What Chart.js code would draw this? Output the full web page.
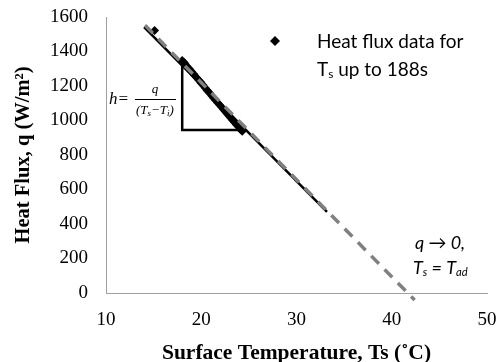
<!DOCTYPE html>
<html>
<head>
<meta charset="utf-8">
<script src="https://cdn.jsdelivr.net/npm/chart.js@4/dist/chart.umd.min.js"></script>
<style>
  html, body { margin: 0; padding: 0; background: #fff; }
  #wrap { width: 503px; height: 362px; }
</style>
</head>
<body>
<div id="wrap"><canvas id="fluxChart" width="503" height="362"></canvas></div>
<script>
// heat flux data, Ts up to 188 s
const fluxT = [15.1, 18.0, 18.2, 18.3, 18.5, 18.7, 18.8, 19.0, 19.2, 19.3, 19.5, 19.7, 19.9, 20.0,
               20.2, 20.4, 20.6, 20.7, 20.9, 21.1, 21.3, 21.5, 21.7, 21.9, 22.1, 22.3, 22.5,
               22.7, 22.9, 23.1, 23.3, 23.5, 23.7, 23.9, 24.1, 24.3];
const fluxQ = [1522, 1348, 1336, 1327, 1315, 1302, 1296, 1283, 1269, 1263, 1250, 1236, 1224, 1216,
               1204, 1190, 1177, 1170, 1158, 1144, 1131, 1118, 1105, 1093, 1079, 1067, 1053,
               1040, 1028, 1015, 1002, 989, 976, 964, 950, 938];

// linear fit through the data (solid black)
const fitT = [14.0, 33.2];
const fitQ = [1542, 470];

// extrapolation to q = 0 (grey dashed)
const trendT = [14.1, 42.4];
const trendQ = [1552, -41];

// slope triangle
const triT = [18.0, 18.0, 24.3];
const triQ = [1345, 945, 945];

const xTicks = [10, 20, 30, 40, 50];
const yTicks = [0, 200, 400, 600, 800, 1000, 1200, 1400, 1600];

const toPts = (xs, ys) => xs.map((x, i) => ({ x: x, y: ys[i] }));

const serif = "'Liberation Serif', 'Times New Roman', serif";
const sans = "Lato, 'Open Sans', sans-serif";

// draws text with a subscript part: parts = [[text, isSub], ...]
const drawRich = (ctx, parts, x, y, size, style) => {
    let cx = x;
    parts.forEach(p => {
        const s = p[1] ? size * 0.62 : size;
        ctx.font = `${style} ${s}px ${sans}`;
        ctx.fillText(p[0], cx, p[1] ? y + size * 0.22 : y);
        cx += ctx.measureText(p[0]).width;
    });
};

const annotations = {
    id: 'annotations',
    afterDatasetsDraw(chart) {
        const ctx = chart.ctx;
        ctx.save();
        ctx.fillStyle = '#000';
        ctx.textBaseline = 'middle';
        ctx.textAlign = 'left';

        // legend
        const lx = 275, ly = 41;
        ctx.beginPath();
        ctx.moveTo(lx, ly - 5);
        ctx.lineTo(lx + 5, ly);
        ctx.lineTo(lx, ly + 5);
        ctx.lineTo(lx - 5, ly);
        ctx.closePath();
        ctx.fill();
        drawRich(ctx, [['Heat flux data for', false]], 317, 42, 19, 'normal');
        drawRich(ctx, [['T', false], ['s', true], [' up to 188s', false]], 317, 70, 19, 'normal');

        // q -> 0 note
        drawRich(ctx, [['q \u2192 0,', false]], 415, 243, 18, 'italic');
        drawRich(ctx, [['T', false], ['s', true], [' = T', false], ['ad', true]], 413, 268, 18, 'italic');

        // h = q / (Ts - Ti)
        const fx = 109, fy = 100;
        ctx.font = `italic 17px ${serif}`;
        ctx.fillText('h=', fx, fy);
        ctx.fillRect(135, fy - 1, 41, 1);
        ctx.textAlign = 'center';
        ctx.font = `italic 13px ${serif}`;
        ctx.fillText('q', 155, fy - 10);
        ctx.textAlign = 'left';
        let dx = 136;
        [['(T', 13, 0], ['s', 9, 3], ['\u2212T', 13, 0], ['i', 9, 3], [')', 13, 0]].forEach(p => {
            ctx.font = `italic ${p[1]}px ${serif}`;
            ctx.fillText(p[0], dx, fy + 11 + p[2]);
            dx += ctx.measureText(p[0]).width;
        });
        ctx.restore();
    }
};

new Chart(document.getElementById('fluxChart').getContext('2d'), {
    type: 'scatter',
    data: {
        datasets: [
            {
                label: 'Extrapolation',
                data: toPts(trendT, trendQ),
                showLine: true,
                borderColor: '#808080',
                borderWidth: 3.5,
                borderDash: [11, 8],
                pointRadius: 0,
                clip: false,
                order: 0
            },
            {
                label: 'Fit',
                data: toPts(fitT, fitQ),
                showLine: true,
                borderColor: '#000',
                borderWidth: 2.5,
                pointRadius: 0,
                order: 1
            },
            {
                label: 'Heat flux data for Ts up to 188s',
                data: toPts(fluxT, fluxQ),
                pointStyle: 'rectRot',
                pointRadius: 4.5,
                backgroundColor: '#000',
                borderColor: '#000',
                borderWidth: 0,
                order: 2
            },
            {
                label: 'Triangle',
                data: toPts(triT, triQ),
                showLine: true,
                borderColor: '#000',
                borderWidth: 2.5,
                pointRadius: 0,
                order: 3
            }
        ]
    },
    options: {
        responsive: false,
        animation: false,
        layout: { padding: { top: 17, right: 16, bottom: 0, left: 0 } },
        plugins: {
            legend: { display: false },
            tooltip: { enabled: false }
        },
        scales: {
            x: {
                type: 'linear',
                min: 10,
                max: 50,
                afterBuildTicks: (s) => { s.ticks = xTicks.map(v => ({ value: v })); },
                afterFit: (s) => {
                    s.height = 69;
                    s.paddingLeft = 0;
                    s.paddingRight = 0;
                },
                grid: { display: false, drawTicks: false },
                border: { color: '#a0a0a0', width: 1 },
                ticks: { padding: 16, color: '#000', font: { family: serif, size: 19 } },
                title: {
                    display: true,
                    text: 'Surface Temperature, Ts (\u02DAC)',
                    color: '#000',
                    padding: 0,
                    font: { family: serif, size: 21.5, weight: 'bold', lineHeight: 0.75 }
                }
            },
            y: {
                type: 'linear',
                min: 0,
                max: 1600,
                afterBuildTicks: (s) => { s.ticks = yTicks.map(v => ({ value: v })); },
                afterFit: (s) => {
                    s.width = 106;
                    s.paddingTop = 0;
                    s.paddingBottom = 0;
                },
                grid: { display: false, drawTicks: false },
                border: { color: '#a0a0a0', width: 1 },
                ticks: {
                    padding: 18,
                    color: '#000',
                    font: { family: serif, size: 19 },
                    callback: (v) => String(v)
                },
                title: {
                    display: true,
                    text: 'Heat Flux, q (W/m\u00B2)',
                    color: '#000',
                    padding: { top: 12, bottom: 0 },
                    font: { family: serif, size: 20.5, weight: 'bold', lineHeight: 1.1 }
                }
            }
        }
    },
    plugins: [annotations]
});
</script>
</body>
</html>
